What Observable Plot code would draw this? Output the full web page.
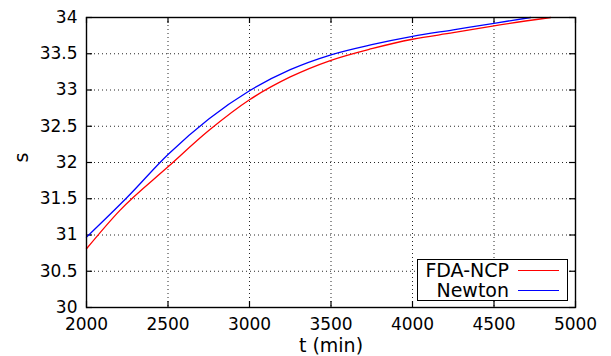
<!DOCTYPE html>
<html>
<head>
<meta charset="utf-8">
<script src="https://cdn.jsdelivr.net/npm/d3@7"></script>
<script src="https://cdn.jsdelivr.net/npm/@observablehq/plot@0.6"></script>
<style>
  html, body { margin: 0; padding: 0; background: #fff; }
  #wrap { position: relative; width: 611px; height: 356px; font-family: "DejaVu Sans", sans-serif; }
  #wrap svg { overflow: visible; }
  #legend { position: absolute; left: 417px; top: 259px; width: 151px; height: 42px; border: 1.3px solid #000; background: #fff; box-sizing: border-box; }
  .row { position: absolute; left: 0; width: 100%; height: 20px; }
  .lab { position: absolute; right: 58px; font-size: 19px; line-height: 20px; color: #000; white-space: nowrap; }
  .sw { position: absolute; left: 100px; width: 41px; height: 0; border-top: 1.3px solid; }
</style>
</head>
<body>
<div id="wrap"></div>
<script>
// ---- data ----
const xTicks = [2000, 2500, 3000, 3500, 4000, 4500, 5000];
const yTicks = [30, 30.5, 31, 31.5, 32, 32.5, 33, 33.5, 34];

const seriesNames = ["FDA-NCP", "Newton"];
const seriesColors = ["#ff0000", "#0000ff"];

const fdaT = [2000, 2205, 2500, 2750, 3000, 3250, 3500, 3750, 4000, 4250, 4500, 4848];
const fdaS = [30.81, 31.34, 31.94, 32.44, 32.865, 33.18, 33.41, 33.57, 33.70, 33.79, 33.885, 34.0];

const newtonT = [2000, 2250, 2500, 2750, 3000, 3250, 3500, 3750, 4000, 4250, 4500, 4725];
const newtonS = [30.97, 31.52, 32.11, 32.60, 32.99, 33.28, 33.485, 33.625, 33.74, 33.83, 33.92, 34.0];

// ---- tables ----
const fda = fdaT.map((t, i) => ({t, s: fdaS[i]}));
const newton = newtonT.map((t, i) => ({t, s: newtonS[i]}));
const innerGridX = xTicks.slice(1, -1);
const innerGridY = yTicks.slice(1, -1);

const W = 611, H = 356, mL = 86, mR = 36, mT = 17, mB = 49;
const pw = W - mL - mR, ph = H - mT - mB;
const tick = 6;

const chart = Plot.plot({
  width: W,
  height: H,
  marginLeft: mL,
  marginRight: mR,
  marginTop: mT,
  marginBottom: mB,
  style: { fontFamily: "DejaVu Sans, sans-serif", fontSize: "17px", color: "#000", background: "#fff", overflow: "visible" },
  x: { domain: [2000, 5000] },
  y: { domain: [30, 34] },
  marks: [
    Plot.gridX(innerGridX, { stroke: "#000", strokeOpacity: 0.85, strokeDasharray: "1,3" }),
    Plot.gridY(innerGridY, { stroke: "#000", strokeOpacity: 0.85, strokeDasharray: "1,3" }),
    // inward ticks, mirrored on all sides
    Plot.ruleX(xTicks, { x: d => d, insetTop: ph - tick, stroke: "#000", strokeWidth: 1.2 }),
    Plot.ruleX(xTicks, { x: d => d, insetBottom: ph - tick, stroke: "#000", strokeWidth: 1.2 }),
    Plot.ruleY(yTicks, { y: d => d, insetRight: pw - tick, stroke: "#000", strokeWidth: 1.2 }),
    Plot.ruleY(yTicks, { y: d => d, insetLeft: pw - tick, stroke: "#000", strokeWidth: 1.2 }),
    Plot.line(fda, { x: "t", y: "s", stroke: seriesColors[0], strokeWidth: 1.3, curve: "monotone-x" }),
    Plot.line(newton, { x: "t", y: "s", stroke: seriesColors[1], strokeWidth: 1.3, curve: "monotone-x" }),
    Plot.frame({ stroke: "#000", strokeWidth: 1.4 }),
    Plot.axisX(xTicks, { tickSize: 0, tickPadding: 10, tickFormat: d => String(d), fontSize: 17, label: null }),
    Plot.axisY(yTicks, { tickSize: 0, tickPadding: 9, tickFormat: d => String(d), fontSize: 17, label: null }),
    Plot.text(["t (min)"], { frameAnchor: "bottom", dy: 44, fontSize: 19, fill: "#000" }),
    Plot.text(["s"], { frameAnchor: "left", dx: -65, rotate: -90, fontSize: 19, fill: "#000" })
  ]
});

const wrap = document.getElementById("wrap");
wrap.appendChild(chart);

// legend overlay
const legend = document.createElement("div");
legend.id = "legend";
seriesNames.forEach((name, i) => {
  const row = document.createElement("div");
  row.className = "row";
  row.style.top = (i === 0 ? 0 : 20) + "px";
  const lab = document.createElement("span");
  lab.className = "lab";
  lab.textContent = name;
  const sw = document.createElement("span");
  sw.className = "sw";
  sw.style.borderTopColor = seriesColors[i];
  sw.style.top = "10px";
  row.appendChild(lab);
  row.appendChild(sw);
  legend.appendChild(row);
});
wrap.appendChild(legend);
</script>
</body>
</html>
